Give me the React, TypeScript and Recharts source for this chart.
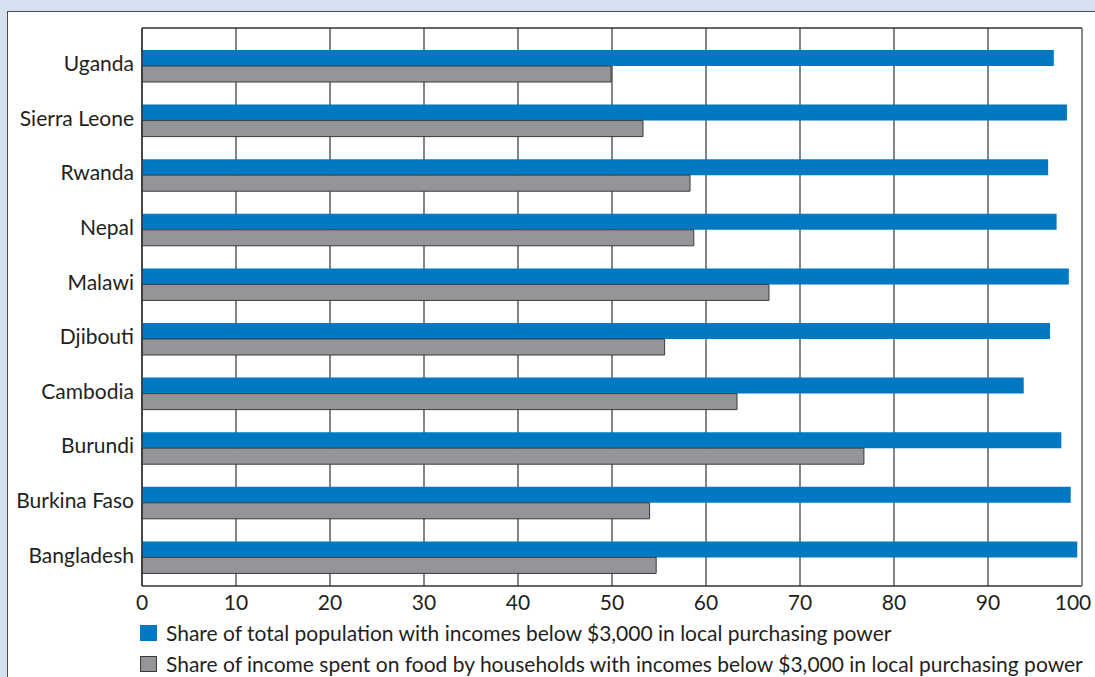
import React from 'react';
import { BarChart, Bar, XAxis, YAxis, CartesianGrid } from 'recharts';

const countries = ['Uganda', 'Sierra Leone', 'Rwanda', 'Nepal', 'Malawi', 'Djibouti', 'Cambodia', 'Burundi', 'Burkina Faso', 'Bangladesh'];
const populationShare = [97.0, 98.4, 96.4, 97.3, 98.6, 96.6, 93.8, 97.8, 98.8, 99.5];
const foodShare = [49.9, 53.3, 58.3, 58.7, 66.7, 55.6, 63.3, 76.8, 54.0, 54.7];
const xTicks = [0, 10, 20, 30, 40, 50, 60, 70, 80, 90, 100];
const seriesNames = [
  'Share of total population with incomes below $3,000 in local purchasing power',
  'Share of income spent on food by households with incomes below $3,000 in local purchasing power',
];
const seriesColors = ['#0079c2', '#939598'];

const data = countries.map((name, i) => ({ name, pop: populationShare[i], food: foodShare[i] }));

const FONT = 'Lato, "Open Sans", sans-serif';
const TEXT = '#231f20';
const FS = 21;

const XTick = (props: any) => {
  const { x, y, payload, index } = props;
  const last = index === xTicks.length - 1;
  return (
    <text x={last ? x - 9 : x} y={y} dy="0.71em" textAnchor="middle" fill={TEXT} fontSize={FS} fontFamily={FONT}>
      {payload.value}
    </text>
  );
};

const YTick = (props: any) => {
  const { x, y, payload } = props;
  return (
    <text x={x} y={y - 2.5} dy="0.355em" textAnchor="end" fill={TEXT} fontSize={FS} fontFamily={FONT}>
      {payload.value}
    </text>
  );
};

export default function App() {
  return (
    <div style={{ position: 'absolute', left: 0, top: 0, width: 1095, height: 677, background: '#d5e0f0', overflow: 'hidden', fontFamily: FONT }}>
      <div style={{ position: 'absolute', left: 7, top: 11, width: 1200, height: 800, background: '#ffffff', borderLeft: '1.5px solid #4a4a4a', borderTop: '1.5px solid #4a4a4a' }} />
      <div style={{ position: 'absolute', left: 0, top: 0 }}>
        <BarChart
          width={1095}
          height={677}
          data={data}
          layout="vertical"
          margin={{ top: 27, right: 12, bottom: 61, left: 0 }}
          barGap={0}
          barSize={16}
        >
          <CartesianGrid horizontal={false} vertical={true} stroke="#333333" strokeWidth={1.2} />
          <XAxis
            type="number"
            domain={[0, 100]}
            ticks={xTicks}
            interval={0}
            height={30}
            tickSize={0}
            tickMargin={9}
            axisLine={{ stroke: '#333333', strokeWidth: 1.5 }}
            tickLine={false}
            tick={<XTick />}
          />
          <XAxis
            xAxisId="t"
            orientation="top"
            type="number"
            domain={[0, 100]}
            ticks={xTicks}
            height={1}
            tick={false}
            tickLine={false}
            axisLine={{ stroke: '#333333', strokeWidth: 1.5 }}
          />
          <YAxis
            type="category"
            dataKey="name"
            width={142}
            tickSize={0}
            tickMargin={8}
            interval={0}
            padding={{ top: 11, bottom: 1 }}
            axisLine={{ stroke: '#333333', strokeWidth: 1.5 }}
            tickLine={false}
            tick={<YTick />}
          />
          <YAxis
            yAxisId="r"
            orientation="right"
            type="category"
            dataKey="name"
            width={1}
            tick={false}
            tickLine={false}
            axisLine={{ stroke: '#8a8a8a', strokeWidth: 1.5 }}
          />
          <Bar dataKey="pop" name={seriesNames[0]} fill={seriesColors[0]} isAnimationActive={false} />
          <Bar dataKey="food" name={seriesNames[1]} fill={seriesColors[1]} stroke="#3a3a3a" strokeWidth={1} isAnimationActive={false} />
        </BarChart>
      </div>
      {seriesNames.map((label, i) => (
        <div key={label} style={{ position: 'absolute', left: 140, top: 624 + i * 31, height: 18, display: 'flex', alignItems: 'center', whiteSpace: 'nowrap' }}>
          <div style={{ width: i === 1 ? 15 : 17, height: i === 1 ? 14 : 16, background: seriesColors[i], border: i === 1 ? '1px solid #3a3a3a' : 'none', marginRight: 9 }} />
          <span style={{ fontSize: FS, color: TEXT, fontFamily: FONT, lineHeight: '18px' }}>{label}</span>
        </div>
      ))}
    </div>
  );
}
